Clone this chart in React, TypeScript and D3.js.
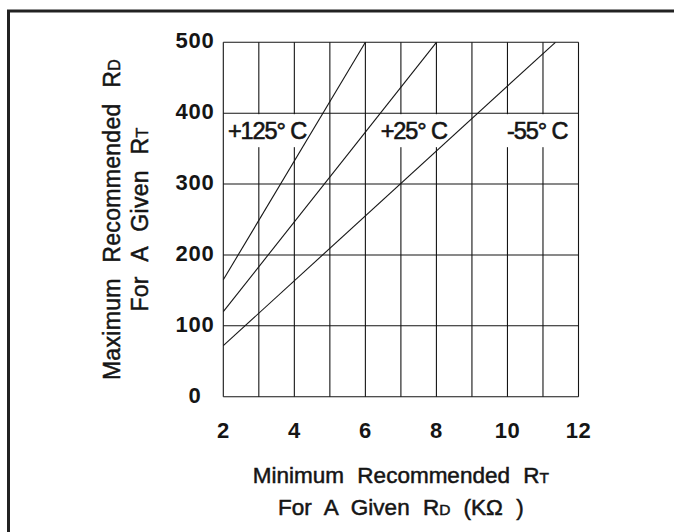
import * as d3 from 'd3'

// axis ticks and grid
const xTicks = [2, 4, 6, 8, 10, 12]
const yTicks = [0, 100, 200, 300, 400, 500]
const xGrid = [2, 3, 4, 5, 6, 7, 8, 9, 10, 11, 12]

// curves (RT kOhm -> max RD)
const seriesNames = ['+125° C', '+25° C', '-55° C']
const hot = [
  { x: 2, y: 165 },
  { x: 6, y: 500 },
]
const room = [
  { x: 2, y: 120 },
  { x: 8, y: 500 },
]
const cold = [
  { x: 2, y: 72 },
  { x: 11.35, y: 500 },
]
const curves = [hot, room, cold]
// label anchors (left edge, in data units)
const labelX = [2.13, 6.43, 9.99]
const labelY = 365

const W = 674
const H = 532
const margin = { top: 42.3, right: 95.5, bottom: 135.3, left: 223.3 }

const font = '"Liberation Sans", Arial, Helvetica, sans-serif'
const ink = '#151515'

export default function App() {
  const x = d3
    .scaleLinear()
    .domain([2, 12])
    .range([margin.left, W - margin.right])
  const y = d3
    .scaleLinear()
    .domain([0, 500])
    .range([H - margin.bottom, margin.top])

  const line = d3
    .line<{ x: number; y: number }>()
    .x((d) => x(d.x))
    .y((d) => y(d.y))

  const x0 = x(2)
  const x1 = x(12)
  const y0 = y(0)
  const y1 = y(500)
  const cx = (x0 + x1) / 2
  const cy = (y0 + y1) / 2

  const labelW = [77, 73, 68]

  return (
    <svg
      width={W}
      height={H}
      style={{ position: 'absolute', left: 0, top: 0, background: '#fff' }}
      fontFamily={font}
    >
      <rect width={W} height={H} fill="#fff" />
      {/* frame */}
      <path d={`M8.5,${H + 5}V11H${W + 5}`} fill="none" stroke="#222" strokeWidth={3} />

      {/* grid */}
      <g stroke={ink} strokeWidth={1.1}>
        {xGrid.map((v) => (
          <line key={'vx' + v} x1={x(v)} x2={x(v)} y1={y0} y2={y1} />
        ))}
        {yTicks.map((v) => (
          <line key={'hy' + v} x1={x0} x2={x1} y1={y(v)} y2={y(v)} />
        ))}
      </g>

      {/* label backgrounds */}
      {seriesNames.map((n, i) => (
        <rect
          key={'bg' + n}
          x={x(labelX[i]) - 2}
          y={y(400) + 1}
          width={labelW[i] + 4}
          height={33}
          fill="#fff"
        />
      ))}

      {/* curves */}
      {curves.map((c, i) => (
        <path key={'c' + i} d={line(c) ?? ''} fill="none" stroke={ink} strokeWidth={1.1} />
      ))}

      {/* curve labels */}
      {seriesNames.map((n, i) => (
        <text
          key={'lb' + n}
          x={x(labelX[i])}
          y={y(labelY) + 1}
          fontSize={23.5}
          letterSpacing={-1.1}
          fill={ink}
          stroke={ink}
          strokeWidth={0.6}
        >
          {n}
        </text>
      ))}

      {/* y tick labels */}
      {yTicks.map((v) => (
        <text
          key={'yt' + v}
          x={195}
          y={y(v) - 2}
          dy="0.36em"
          textAnchor="middle"
          fontSize={22}
          fontWeight="bold"
          letterSpacing={0.8}
          fill={ink}
        >
          {v}
        </text>
      ))}

      {/* x tick labels */}
      {xTicks.map((v) => (
        <text
          key={'xt' + v}
          x={x(v)}
          y={438}
          textAnchor="middle"
          fontSize={22}
          fontWeight="bold"
          letterSpacing={0.5}
          fill={ink}
        >
          {v}
        </text>
      ))}

      {/* x title */}
      <g
        fontSize={22.5}
        fill={ink}
        stroke={ink}
        strokeWidth={0.5}
        textAnchor="middle"
        wordSpacing={7}
      >
        <text x={cx} y={483}>
          Minimum Recommended R<tspan fontSize={15.5}>T</tspan>
        </text>
        <text x={cx} y={515}>
          For A Given R<tspan fontSize={15.5}>D</tspan> (KΩ )
        </text>
      </g>

      {/* y title */}
      <g
        fontSize={23}
        fill={ink}
        stroke={ink}
        strokeWidth={0.5}
        textAnchor="middle"
        wordSpacing={9}
        letterSpacing={0.3}
      >
        <text transform={`translate(120,${cy}) rotate(-90)`}>
          Maximum Recommended R<tspan fontSize={16}>D</tspan>
        </text>
        <text transform={`translate(148,${cy}) rotate(-90)`}>
          For A Given R<tspan fontSize={16}>T</tspan>
        </text>
      </g>
    </svg>
  )
}
